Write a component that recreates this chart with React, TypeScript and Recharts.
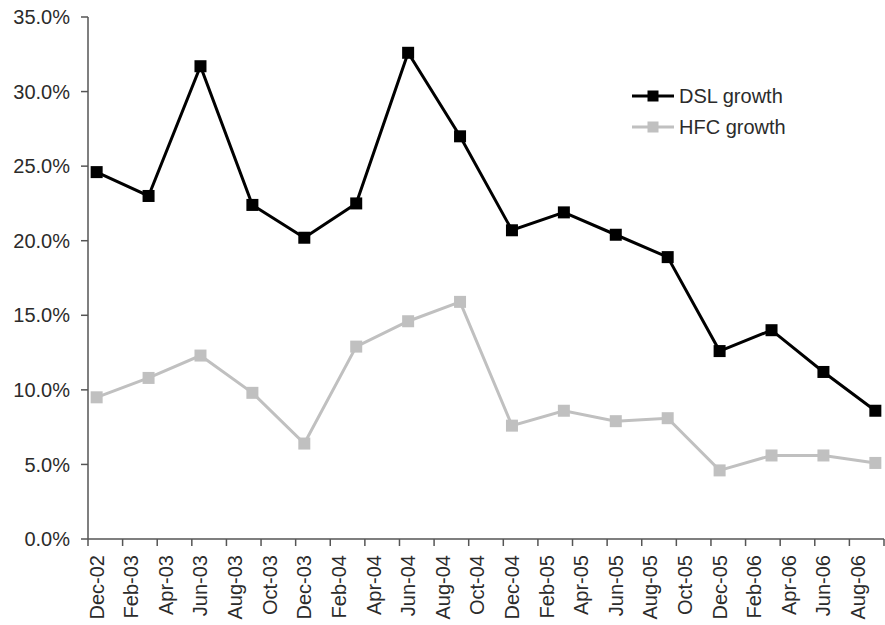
import React from 'react';
import { LineChart, Line, XAxis, YAxis, Legend } from 'recharts';

// quarterly observations, Dec-02 .. Sep-06 (growth in %)
const quarters = [
  'Dec-02', 'Mar-03', 'Jun-03', 'Sep-03', 'Dec-03', 'Mar-04', 'Jun-04', 'Sep-04',
  'Dec-04', 'Mar-05', 'Jun-05', 'Sep-05', 'Dec-05', 'Mar-06', 'Jun-06', 'Sep-06',
];
const dslGrowth = [24.6, 23.0, 31.7, 22.4, 20.2, 22.5, 32.6, 27.0, 20.7, 21.9, 20.4, 18.9, 12.6, 14.0, 11.2, 8.6];
const hfcGrowth = [9.5, 10.8, 12.3, 9.8, 6.4, 12.9, 14.6, 15.9, 7.6, 8.6, 7.9, 8.1, 4.6, 5.6, 5.6, 5.1];

// axis labels every two months (date axis, monthly base unit)
const monthLabels = [
  'Dec-02', 'Feb-03', 'Apr-03', 'Jun-03', 'Aug-03', 'Oct-03', 'Dec-03', 'Feb-04',
  'Apr-04', 'Jun-04', 'Aug-04', 'Oct-04', 'Dec-04', 'Feb-05', 'Apr-05', 'Jun-05',
  'Aug-05', 'Oct-05', 'Dec-05', 'Feb-06', 'Apr-06', 'Jun-06', 'Aug-06',
];
const xTicks = [0, 2, 4, 6, 8, 10, 12, 14, 16, 18, 20, 22, 24, 26, 28, 30, 32, 34, 36, 38, 40, 42, 44, 46];
const yTicks = [0, 5, 10, 15, 20, 25, 30, 35];

const TOTAL_MONTHS = 46;
const W = 885;
const H = 625;
const Y_AXIS_W = 88;
const RIGHT = 1;
const HALF_MONTH = (W - Y_AXIS_W - RIGHT) / TOTAL_MONTHS / 2;

const FONT = '"Liberation Sans", Arial, sans-serif';
const TEXT = '#2b2b2b';
const AXIS = '#555555';

// each quarter sits in the middle of its month slot
const data = quarters.map((q, i) => ({
  label: q,
  month: i * 3 + 0.5,
  dsl: dslGrowth[i],
  hfc: hfcGrowth[i],
}));

function MonthTick(props: any) {
  const { x, y, payload } = props;
  const label = monthLabels[payload.value / 2];
  if (!label) return <g />;
  return (
    <g transform={`translate(${x + HALF_MONTH},${y})`}>
      <text transform="rotate(-90)" textAnchor="end" dy="0.35em" fontSize={20} fill={TEXT} fontFamily={FONT}>
        {label}
      </text>
    </g>
  );
}

const squareDot = (size: number) => (props: any) => {
  const { cx, cy, stroke, index } = props;
  return <rect key={index} x={cx - size / 2} y={cy - size / 2} width={size} height={size} fill={stroke} />;
};

function LegendContent({ payload }: any) {
  return (
    <div style={{ fontFamily: FONT }}>
      {(payload || []).map((p: any) => (
        <div key={p.value} style={{ display: 'flex', alignItems: 'center', height: 31 }}>
          <svg width={42} height={12} style={{ display: 'block' }}>
            <line x1={0} y1={6} x2={42} y2={6} stroke={p.color} strokeWidth={3} />
            <rect x={15.5} y={0.5} width={11} height={11} fill={p.color} />
          </svg>
          <span style={{ marginLeft: 5, fontSize: 20, color: TEXT, lineHeight: '20px' }}>{p.value}</span>
        </div>
      ))}
    </div>
  );
}

export default function App() {
  return (
    <div style={{ position: 'absolute', left: 0, top: 0, width: W, height: H, background: '#fff' }}>
      <LineChart width={W} height={H} data={data} margin={{ top: 17, right: RIGHT, bottom: 0, left: 0 }}>
        <XAxis
          dataKey="month"
          type="number"
          domain={[0, TOTAL_MONTHS]}
          ticks={xTicks}
          interval={0}
          height={86}
          tickSize={7}
          tickMargin={9}
          axisLine={{ stroke: AXIS, strokeWidth: 1.5 }}
          tickLine={{ stroke: AXIS, strokeWidth: 1.5 }}
          tick={<MonthTick />}
        />
        <YAxis
          type="number"
          domain={[0, 35]}
          ticks={yTicks}
          interval={0}
          width={Y_AXIS_W}
          tickSize={7}
          tickMargin={11}
          axisLine={{ stroke: AXIS, strokeWidth: 1.5 }}
          tickLine={{ stroke: AXIS, strokeWidth: 1.5 }}
          tick={{ fontSize: 20, fill: TEXT, fontFamily: FONT }}
          tickFormatter={(v: number) => `${v.toFixed(1)}%`}
        />
        <Legend
          layout="vertical"
          align="center"
          verticalAlign="middle"
          content={<LegendContent />}
          wrapperStyle={{ left: 632, top: 80, width: 200, height: 62 }}
        />
        <Line
          dataKey="dsl"
          name="DSL growth"
          stroke="#000000"
          strokeWidth={3}
          dot={squareDot(12)}
          activeDot={false}
          isAnimationActive={false}
        />
        <Line
          dataKey="hfc"
          name="HFC growth"
          stroke="#c0c0c0"
          strokeWidth={3}
          dot={squareDot(12)}
          activeDot={false}
          isAnimationActive={false}
        />
      </LineChart>
    </div>
  );
}
